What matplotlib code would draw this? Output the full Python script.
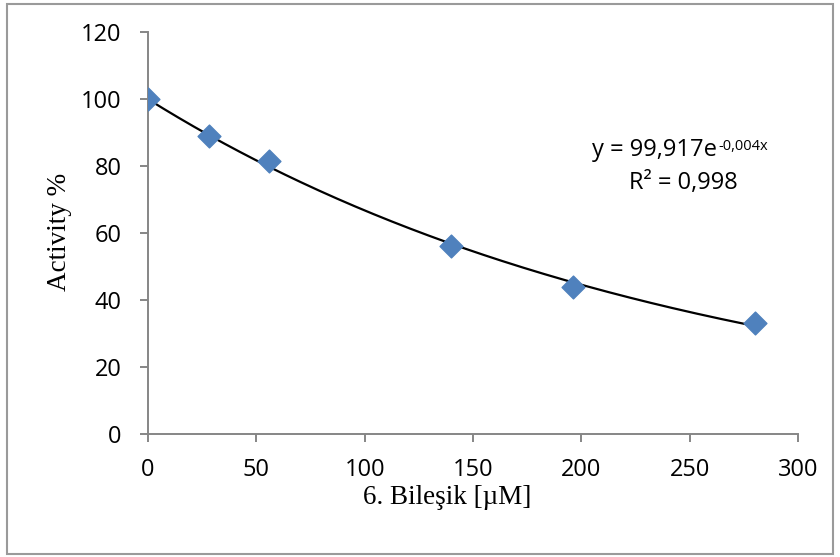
import numpy as np
import matplotlib
matplotlib.use("Agg")
import matplotlib.pyplot as plt
from matplotlib.patches import Rectangle

# data
conc = [0, 28, 56, 140, 196, 280]          # µM
activity = [100, 89, 81.5, 56, 44, 33]     # %
x_ticks = [0, 50, 100, 150, 200, 250, 300]
y_ticks = [0, 20, 40, 60, 80, 100, 120]

eq_text = "y = 99,917e"
eq_exp = "-0,004x"
r2_text = "R² = 0,998"

SANS = ["Open Sans", "DejaVu Sans"]
SERIF = ["Liberation Serif", "DejaVu Serif"]
AXIS_GRAY = "#868686"
W, H = 840, 557


def px(x, y):
    # pixel (from top-left) -> figure fraction
    return x / W, 1 - y / H


fig = plt.figure(figsize=(8.4, 5.57), dpi=100)
ax = fig.add_axes([148 / W, 1 - 434 / H, 650 / W, 402 / H])

# exponential trendline, fitted like Excel does (log-linear)
b, ln_a = np.polyfit(conc, np.log(activity), 1)
xs = np.linspace(min(conc), max(conc), 200)
ax.plot(xs, np.exp(ln_a) * np.exp(b * xs), color="black", lw=1.6, zorder=2)

ax.scatter(conc, activity, marker="D", s=135, color="#4F81BD",
           edgecolor="#4F81BD", zorder=3)

ax.set_xlim(0, 300)
ax.set_ylim(0, 120)
ax.set_xticks(x_ticks)
ax.set_yticks(y_ticks)
for sp in ["top", "right"]:
    ax.spines[sp].set_visible(False)
for sp in ["left", "bottom"]:
    ax.spines[sp].set_color(AXIS_GRAY)
    ax.spines[sp].set_linewidth(1.4)
ax.tick_params(direction="out", length=6, width=1.4, color=AXIS_GRAY,
               labelsize=17)
ax.tick_params(axis="x", pad=11)
ax.tick_params(axis="y", pad=13)
for lbl in ax.get_xticklabels() + ax.get_yticklabels():
    lbl.set_family(SANS)

# axis titles (Excel puts them slightly off-centre)
fig.text(*px(447, 497), "6. Bileşik [µM]", family=SERIF, fontsize=19.5,
         ha="center", va="center")
fig.text(*px(59, 232), "Activity %", family=SERIF, fontsize=19.5,
         ha="center", va="center", rotation=90)

# equation + R²
fig.text(*px(717, 150), eq_text, family=SANS, fontsize=17,
         ha="right", va="center")
fig.text(*px(718, 139), eq_exp, family=SANS, fontsize=10.5,
         ha="left", va="top")
fig.text(*px(683, 183), r2_text, family=SANS, fontsize=17,
         ha="center", va="center")

# outer border of the chart area
fig.patches.append(Rectangle((7 / W, 3 / H), 826 / W, 550 / H,
                             transform=fig.transFigure, fill=False,
                             edgecolor="#9a9a9a", lw=1.5))

fig.savefig("out.png", dpi=100)
